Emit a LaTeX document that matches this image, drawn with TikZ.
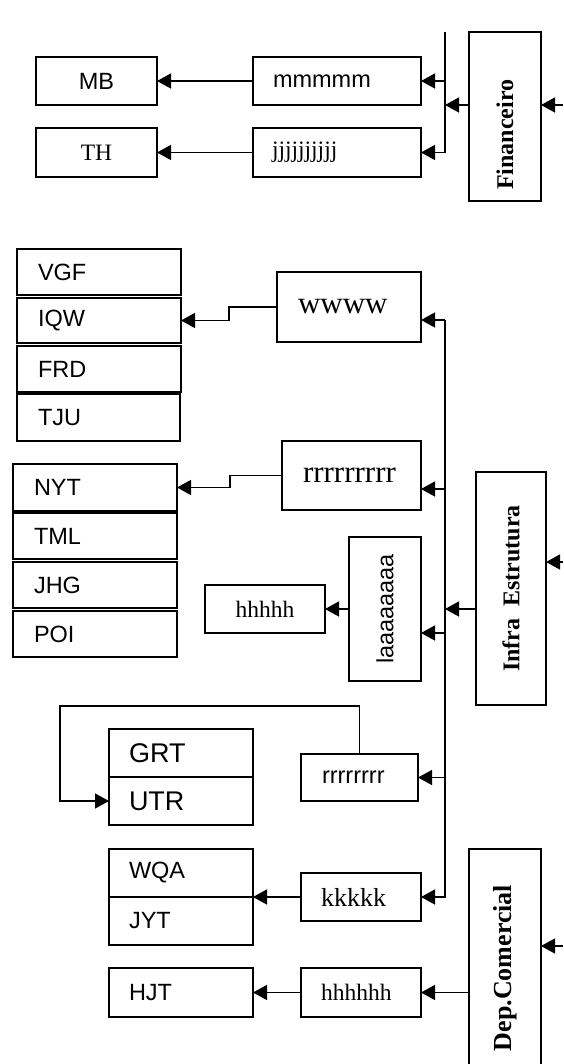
\documentclass[tikz,border=0pt]{standalone}
\usepackage{fontspec}
\setmainfont{Liberation Serif}
\setsansfont{Liberation Sans}
\usetikzlibrary{arrows.meta}
\tikzset{
  box/.style={draw, line width=1.5pt, inner sep=0pt, outer sep=0pt},
  lp/.style={align=left, inner xsep=#1},
  lp/.default=20pt,
  sans/.style={font=\sffamily\fontsize{23.5}{28}\selectfont},
  serif/.style={font=\rmfamily\fontsize{23.5}{28}\selectfont},
  bigserif/.style={font=\rmfamily\fontsize{31}{36}\selectfont},
  bold/.style={font=\rmfamily\bfseries\fontsize{#1}{30}\selectfont},
  conn/.style={line width=1.4pt},
  arr/.style={line width=1.4pt, -{Triangle[length=14pt,width=15pt]}},
}
\begin{document}
\begin{tikzpicture}[x=1pt,y=-1pt]
\useasboundingbox (0,0) rectangle (563,1064);

% ---------- Financeiro group ----------
\node[box,sans,minimum width=121pt,minimum height=48pt] (mb) at (96.5,81) {MB};
\node[box,serif,minimum width=121pt,minimum height=49pt] (th) at (96.5,152.5) {TH};
\node[box,sans,lp,minimum height=48pt,text width=128pt] (mmm) at (337,81) {mmmmm};
\node[box,serif,lp=19pt,minimum height=49pt,text width=130pt] (jjj) at (337,152.5) {jjjjjjjjjj};
\node[box,bold=24,minimum width=72pt,minimum height=169pt] (fin) at (505,116.5)
  {\rotatebox{90}{\makebox[147pt][l]{Financeiro}}};

\coordinate (ftop) at (445,32);
\coordinate (finin) at (563,105);
\coordinate (finout) at ([yshift=11.5pt]fin.west);
\draw[arr] (ftop) |- (jjj.east);
\draw[arr] (ftop |- mmm.east) -- (mmm.east);
\draw[arr] (finout) -- (finout -| ftop);
\draw[arr] (finin) -- (finin -| fin.east);
\draw[arr] (mmm.west) -- (mb.east);
\draw[arr] (jjj.west) -- (th.east);

% ---------- Infra Estrutura group ----------
\node[box,sans,lp=21pt,minimum height=46pt,text width=122pt] (vgf) at (99,272) {VGF};
\node[box,sans,lp=21pt,minimum height=45pt,text width=122pt] (iqw) at (99,320.5) {IQW};
\node[box,sans,lp=21pt,minimum height=46pt,text width=122pt] (frd) at (99,369) {FRD};
\node[box,sans,lp=21pt,minimum height=47pt,text width=121pt] (tju) at (98.5,417.5) {TJU};
\node[box,bigserif,lp=21pt,minimum height=70pt,text width=102pt] (www) at (349,307) {wwww};

\node[box,bigserif,lp=21pt,minimum height=69pt,text width=97pt] (r9) at (351.5,475.5) {rrrrrrrrr};
\node[box,sans,lp=21pt,minimum height=47pt,text width=122pt] (nyt) at (95,487.5) {NYT};
\node[box,sans,lp=21pt,minimum height=46pt,text width=122pt] (tml) at (95,536) {TML};
\node[box,sans,lp=21pt,minimum height=46pt,text width=122pt] (jhg) at (95,585) {JHG};
\node[box,sans,lp=21pt,minimum height=46pt,text width=122pt] (poi) at (95,634) {POI};

\node[box,sans,minimum width=72pt,minimum height=144pt] (laa) at (385,609) {\rotatebox{90}{laaaaaaaa}};
\node[box,serif,minimum width=120pt,minimum height=48pt] (h5) at (265,609) {hhhhh};
\node[box,bold=24,minimum width=70pt,minimum height=233pt] (infra) at (511,588.5)
  {\rotatebox{90}{Infra\ \ Estrutura}};

\node[box,font=\sffamily\fontsize{27}{32}\selectfont,lp,minimum height=48pt,text width=104pt] (grt) at (181,753) {GRT};
\node[box,font=\sffamily\fontsize{27}{32}\selectfont,lp,minimum height=48pt,text width=104pt] (utr) at (181,801) {UTR};
\node[box,sans,lp=21pt,minimum height=47pt,text width=75pt] (r8) at (359.5,777.5) {rrrrrrrr};

\node[box,sans,lp,minimum height=48pt,text width=104pt] (wqa) at (181,873) {WQA};
\node[box,sans,lp,minimum height=48pt,text width=104pt] (jyt) at (181,921) {JYT};
\node[box,font=\rmfamily\fontsize{26}{30}\selectfont,lp,minimum height=48pt,text width=80pt] (kkk) at (361,897) {kkkkk};

\coordinate (itop) at (445,320);
\coordinate (r9in) at ([yshift=-13.5pt]r9.east);
\coordinate (laain) at ([yshift=-24pt]laa.east);
\coordinate (infout) at ([yshift=-20.5pt]infra.west);
\coordinate (infin) at (563,562);
\coordinate (loop) at (60,706);

\draw[arr] (itop) |- (kkk.east);
\draw[arr] (itop) -- (itop -| www.east);
\draw[arr] (itop |- r9in) -- (r9in);
\draw[arr] (itop |- laain) -- (laain);
\draw[arr] (itop |- r8.east) -- (r8.east);
\draw[arr] (infout) -- (infout -| itop);
\draw[arr] (infin) -- (infin -| infra.east);

\draw[arr] (www.west) -- ++(-48,0) |- (iqw.east);
\draw[arr] (r9.west) -- ++(-52,0) |- (nyt.east);
\draw[arr] (laa.west) -- (h5.east);
\draw[arr] (r8.north) |- (loop) |- (utr.west);
\draw[arr] (kkk.west) -- (kkk.west -| wqa.east);

% ---------- Dep.Comercial group ----------
\node[box,bold=26,minimum width=72pt,minimum height=238pt] (dep) at (505,968)
  {\rotatebox{90}{Dep.Comercial}};
\node[box,sans,lp,minimum height=49pt,text width=104pt] (hjt) at (181,992.5) {HJT};
\node[box,serif,lp,minimum height=49pt,text width=80pt] (h6) at (361,992.5) {hhhhhh};

\coordinate (depin) at (563,946);
\draw[arr] (dep.west |- h6.east) -- (h6.east);
\draw[arr] (h6.west) -- (hjt.east);
\draw[arr] (depin) -- (depin -| dep.east);
\end{tikzpicture}
\end{document}
